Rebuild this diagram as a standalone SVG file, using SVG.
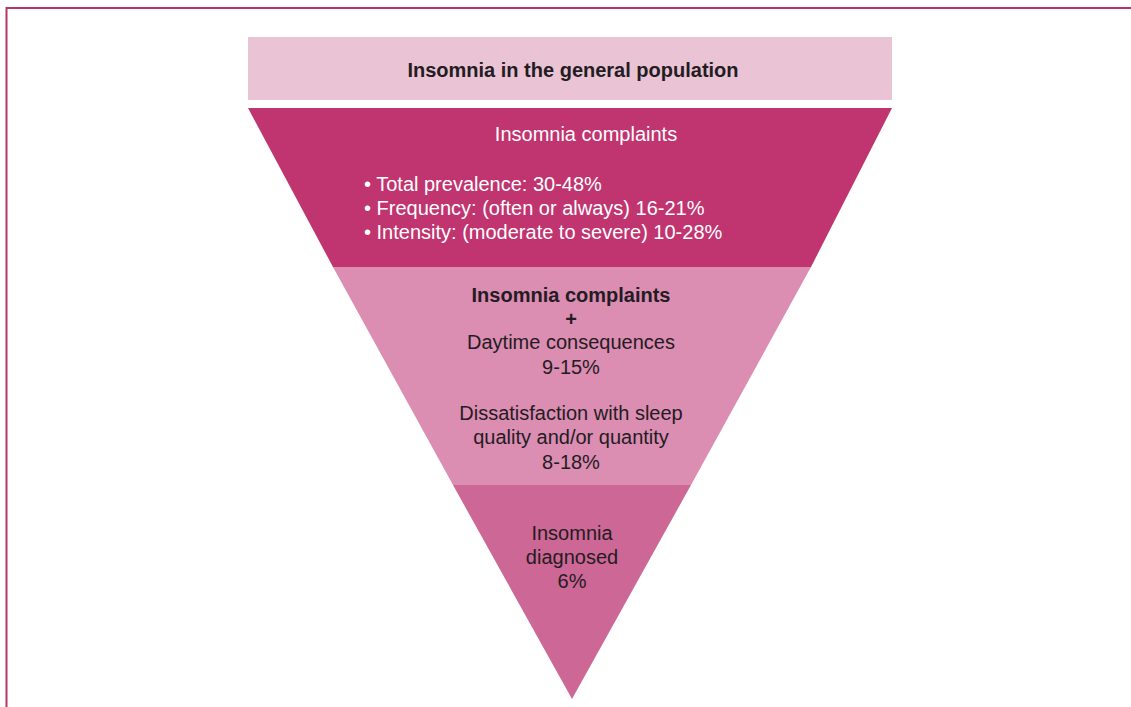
<svg xmlns="http://www.w3.org/2000/svg" width="1131" height="707" viewBox="0 0 1131 707">
<style>
.t{font-family:"Liberation Sans",Arial,sans-serif;text-anchor:middle;fill:#231c22;font-size:20px}
.w{fill:#ffffff}
.b{font-weight:bold}
.l{text-anchor:start}
</style>
<rect width="1131" height="707" fill="#ffffff"/>
<g id="frame">
<path d="M6.5 707 V8 H1131" fill="none" stroke="#b5356a" stroke-width="2"/>
</g>
<g id="header">
<rect x="248" y="37" width="644" height="63" fill="#eac3d4"/>
<text class="t b" x="573" y="77" font-size="19">Insomnia in the general population</text>
</g>
<g id="band1">
<polygon points="248,108 892,108 811,267 333,267" fill="#c0346f"/>
<text class="t w" x="586" y="141">Insomnia complaints</text>
<text class="t w l" x="364" y="191" font-size="18">• Total prevalence: 30-48%</text>
<text class="t w l" x="364" y="215" font-size="18">• Frequency: (often or always) 16-21%</text>
<text class="t w l" x="364" y="239" font-size="18">• Intensity: (moderate to severe) 10-28%</text>
</g>
<g id="band2">
<polygon points="333,267 811,267 691,485 453,485" fill="#dc8db2"/>
<text class="t b" x="571" y="302">Insomnia complaints</text>
<text class="t b" x="571" y="326">+</text>
<text class="t" x="571" y="349">Daytime consequences</text>
<text class="t" x="571" y="374">9-15%</text>
<text class="t" x="571" y="420">Dissatisfaction with sleep</text>
<text class="t" x="571" y="444">quality and/or quantity</text>
<text class="t" x="571" y="469">8-18%</text>
</g>
<g id="band3">
<polygon points="453,485 691,485 572,699" fill="#cd6796"/>
<text class="t" x="572" y="540">Insomnia</text>
<text class="t" x="572" y="564">diagnosed</text>
<text class="t" x="572" y="588">6%</text>
</g>
<g id="connectors"></g>
</svg>
